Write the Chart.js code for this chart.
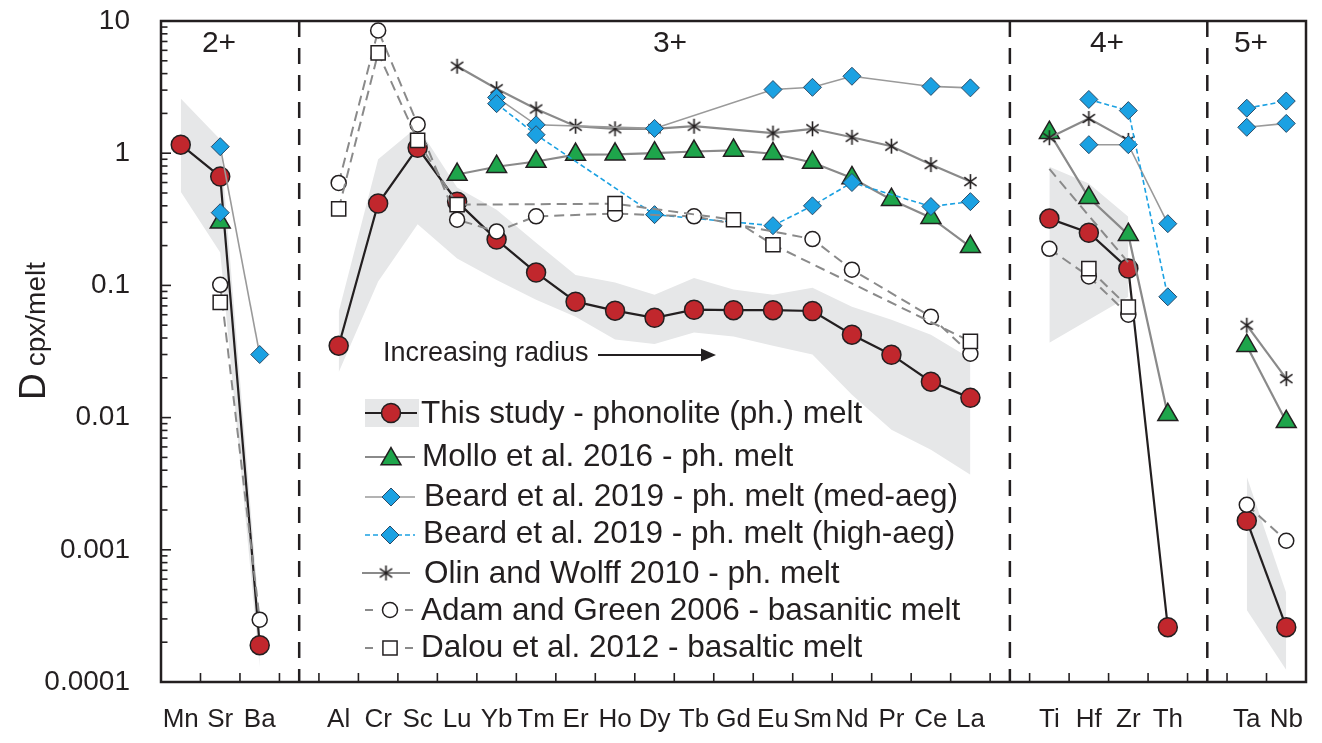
<!DOCTYPE html>
<html><head><meta charset="utf-8">
<script src="https://cdn.jsdelivr.net/npm/chart.js@4.4.1/dist/chart.umd.min.js"></script>
<style>html,body{margin:0;padding:0;background:#fff;}#wrap{position:relative;width:1322px;height:743px;}</style>
</head><body><div id="wrap"><canvas id="c" width="1322" height="743"></canvas></div>
<script>
const categories = ['Mn','Sr','Ba','','Al','Cr','Sc','Lu','Yb','Tm','Er','Ho','Dy','Tb','Gd','Eu','Sm','Nd','Pr','Ce','La','','Ti','Hf','Zr','Th','','Ta','Nb'];
const groupLabels = ['2+','3+','4+','5+'];
const yTickValues = [0.0001,0.001,0.01,0.1,1,10];
const yTickLabels = ['0.0001','0.001','0.01','0.1','1','10'];
const _ = null;
//                 Mn    Sr     Ba       gap Al     Cr     Sc    Lu    Yb     Tm     Er      Ho      Dy      Tb      Gd      Eu      Sm     Nd      Pr      Ce      La      gap Ti    Hf    Zr     Th       gap Ta       Nb
const thisStudy = [1.16, 0.665, 0.00019, _, 0.035, 0.416, 1.10, 0.43, 0.222, 0.125, 0.0753, 0.0644, 0.0569, 0.0655, 0.0650, 0.0650, 0.064, 0.0424, 0.0299, 0.0187, 0.0141, _, 0.32, 0.25, 0.134, 0.00026, _, 0.00166, 0.00026];
const mollo2016 = [_, 0.30, _, _, _, _, _, 0.69, 0.79, 0.865, 0.976, 0.98, 1.0, 1.03, 1.05, 0.99, 0.85, 0.65, 0.445, 0.325, 0.196, _, 1.43, 0.46, 0.242, 0.0105, _, 0.035, 0.0093];
const beardMedAeg = [_, 1.12, 0.030, _, _, _, _, _, 2.64, 1.64, _, _, 1.54, _, _, 3.03, 3.15, 3.82, _, 3.2, 3.12, _, _, 1.16, 1.16, 0.293, _, 1.57, 1.68];
const beardHighAeg = [_, 0.355, _, _, _, _, _, _, 2.37, 1.38, _, _, 0.343, _, _, 0.283, 0.40, 0.60, _, 0.395, 0.43, _, _, 2.55, 2.1, 0.082, _, 2.19, 2.48];
const olinWolff2010 = [_, _, _, _, _, _, _, 4.55, 3.07, 2.16, 1.6, 1.53, 1.53, 1.6, _, 1.42, 1.53, 1.32, 1.13, 0.82, 0.61, _, 1.31, 1.83, 1.25, _, _, 0.05, 0.0197];
const adamGreen2006 = [_, 0.101, 0.000296, _, 0.596, 8.47, 1.65, 0.314, 0.256, 0.333, _, 0.349, _, 0.333, _, _, 0.224, 0.1315, _, 0.058, 0.0304, _, 0.189, 0.117, 0.06, _, _, 0.00219, 0.00117];
const dalou2012 = [_, 0.0744, _, _, 0.379, 5.74, 1.25, 0.408, _, _, _, 0.415, _, _, 0.314, 0.203, _, _, _, _, 0.0377, _, _, 0.134, 0.0686, _, _, _, _];
const dashedTiZr = [_, _, _, _, _, _, _, _, _, _, _, _, _, _, _, _, _, _, _, _, _, _, 0.76, _, 0.149, _, _, _, _];
const bandUpper = [2.59, 1.27, 0.0003, _, 0.063, 0.9, 1.59, 0.55, 0.374, 0.21, 0.12, 0.105, 0.085, 0.114, 0.093, 0.085, 0.096, 0.069, 0.055, 0.0424, 0.028, _, 0.79, 0.59, 0.331, _, _, 0.00357, 0.000472];
const bandLower = [0.51, 0.177, 0.00013, _, 0.022, 0.107, 0.29, 0.16, 0.11, 0.078, 0.058, 0.039, 0.036, 0.044, 0.041, 0.035, 0.030, 0.0149, 0.0081, 0.0057, 0.0037, _, 0.0368, 0.055, 0.082, _, _, 0.000351, 0.000123];
const legendLabels = ['This study - phonolite (ph.) melt','Mollo et al. 2016 - ph. melt','Beard et al. 2019 - ph. melt (med-aeg)','Beard et al. 2019 - ph. melt (high-aeg)','Olin and Wolff 2010 - ph. melt','Adam and Green 2006 - basanitic melt','Dalou et al. 2012 - basaltic melt'];

const FONT = "'Liberation Sans', Arial, sans-serif";
const TXT = '#231f20';
const RED = '#c1272d', GREEN = '#1ea54b', BLUE = '#1ba1e2', BLUEB = '#2a4a66', GRAY = '#8a8a8a', BAND = '#e6e7e8';
const gapIdx = categories.map((c,i)=>c===''?i:-1).filter(i=>i>=0);
const groupId = []; { let g = 0; categories.forEach(c => { if (c === '') { groupId.push(-1); g++; } else groupId.push(g); }); }

function makeAsterisk(){
  const c = document.createElement('canvas'); c.width = c.height = 17;
  const g = c.getContext('2d'); g.strokeStyle = TXT; g.lineWidth = 1.6; g.beginPath();
  const cx = 8.5, r = 7.5;
  for (const a of [90, 35, 145]) { const t = a*Math.PI/180;
    g.moveTo(cx - r*Math.cos(t), cx - r*Math.sin(t)); g.lineTo(cx + r*Math.cos(t), cx + r*Math.sin(t)); }
  g.stroke(); return c;
}
const asterisk = makeAsterisk();

// one line dataset per valence group so lines never cross the separators
function series(label, data, o){
  return groupLabels.map((gl, g) => Object.assign({
    label: label + ' ' + gl,
    data: data.map((v, i) => groupId[i] === g ? v : null),
    spanGaps: true, fill: false, clip: false
  }, o));
}

const datasets = [
  ...series('Dalou et al. 2012', dalou2012, {borderColor:GRAY, borderWidth:2, borderDash:[10,6], pointStyle:'rect', pointRadius:10, pointBackgroundColor:'#fff', pointBorderColor:TXT, pointBorderWidth:1.5}),
  ...series('Adam and Green 2006', adamGreen2006, {borderColor:GRAY, borderWidth:2, borderDash:[10,6], pointStyle:'circle', pointRadius:7.5, pointBackgroundColor:'#fff', pointBorderColor:TXT, pointBorderWidth:1.5}),
  ...series('dashed Ti-Zr', dashedTiZr, {borderColor:GRAY, borderWidth:2, borderDash:[10,6], pointRadius:0}),
  ...series('Beard high-aeg', beardHighAeg, {borderColor:BLUE, borderWidth:1.6, borderDash:[5,3], pointStyle:'rectRot', pointRadius:9, pointBackgroundColor:BLUE, pointBorderColor:BLUEB, pointBorderWidth:1}),
  ...series('Beard med-aeg', beardMedAeg, {borderColor:'#9a9a9a', borderWidth:1.6, pointStyle:'rectRot', pointRadius:9, pointBackgroundColor:BLUE, pointBorderColor:BLUEB, pointBorderWidth:1}),
  ...series('Olin and Wolff 2010', olinWolff2010, {borderColor:GRAY, borderWidth:2.2, pointStyle:asterisk, pointRadius:8}),
  ...series('Mollo et al. 2016', mollo2016, {borderColor:GRAY, borderWidth:2.2, pointStyle:'triangle', pointRadius:11.5, pointBackgroundColor:GREEN, pointBorderColor:TXT, pointBorderWidth:1.5}),
  ...series('This study', thisStudy, {borderColor:TXT, borderWidth:2.2, pointStyle:'circle', pointRadius:9.5, pointBackgroundColor:RED, pointBorderColor:TXT, pointBorderWidth:1.5}),
  {label:'band lower', data:bandLower, borderWidth:0, borderColor:'rgba(0,0,0,0)', pointRadius:0, spanGaps:false, fill:false},
  {label:'band upper', data:bandUpper, borderWidth:0, borderColor:'rgba(0,0,0,0)', pointRadius:0, spanGaps:false, fill:'-1', backgroundColor:BAND},
];

const deco = {
  id:'deco',
  beforeDatasetsDraw(chart){
    const {ctx, chartArea:a, scales:{x}} = chart;
    ctx.save();
    ctx.strokeStyle = TXT; ctx.lineWidth = 2.5; ctx.setLineDash([16,11]);
    for (const g of gapIdx){ const px = x.getPixelForValue(g);
      ctx.beginPath(); ctx.moveTo(px, a.top); ctx.lineTo(px, a.bottom); ctx.stroke(); }
    ctx.setLineDash([]);
    ctx.restore();
  },
  afterDraw(chart){
    const {ctx, chartArea:a, scales:{x, y}} = chart;
    ctx.save();
    ctx.strokeStyle = TXT; ctx.lineWidth = 2.5;
    ctx.strokeRect(a.left, a.top, a.right - a.left, a.bottom - a.top);
    ctx.lineWidth = 1.6;
    for (let e = -4; e <= 1; e++){
      for (let k = 1; k <= 9; k++){
        const v = k*Math.pow(10, e); if (v > 10.0001) break;
        const py = y.getPixelForValue(v);
        ctx.beginPath(); ctx.moveTo(a.left, py); ctx.lineTo(a.left + (k===1?10:6.5), py); ctx.stroke();
      }
    }
    for (let i = 1; i < categories.length; i++){
      const px = (x.getPixelForValue(i-1) + x.getPixelForValue(i))/2;
      ctx.beginPath(); ctx.moveTo(px, a.bottom); ctx.lineTo(px, a.bottom - 9); ctx.stroke();
    }
    ctx.fillStyle = TXT; ctx.font = `30px ${FONT}`; ctx.textAlign = 'center'; ctx.textBaseline = 'middle';
    const gx = [219, 670, 1107, 1251];
    groupLabels.forEach((t,i)=>ctx.fillText(t, gx[i], 44));
    ctx.save(); ctx.translate(45, 400); ctx.rotate(-Math.PI/2);
    ctx.textAlign = 'left'; ctx.textBaseline = 'alphabetic';
    ctx.font = `37px ${FONT}`; ctx.fillText('D', 0, 0);
    const dw = ctx.measureText('D').width;
    ctx.font = `28px ${FONT}`; ctx.fillText('cpx/melt', dw + 7, 0);
    ctx.restore();
    ctx.font = `27px ${FONT}`; ctx.textAlign = 'left'; ctx.textBaseline = 'alphabetic';
    ctx.fillText('Increasing radius', 383, 361);
    ctx.lineWidth = 2; ctx.beginPath(); ctx.moveTo(598, 355); ctx.lineTo(704, 355); ctx.stroke();
    ctx.beginPath(); ctx.moveTo(716, 355); ctx.lineTo(701, 348.5); ctx.lineTo(701, 361.5); ctx.closePath(); ctx.fill();
    const rows = [
      {tx:421, tb:423},{tx:422, tb:466},{tx:424, tb:506},{tx:423, tb:543},
      {tx:424, tb:583},{tx:421, tb:620},{tx:421, tb:657}];
    const H = Chart.helpers;
    ctx.fillStyle = BAND; ctx.fillRect(365, 399, 54, 28);
    ctx.strokeStyle = TXT; ctx.lineWidth = 2.2; ctx.beginPath(); ctx.moveTo(365, 413); ctx.lineTo(417, 413); ctx.stroke();
    ctx.fillStyle = RED; ctx.lineWidth = 1.5; H.drawPoint(ctx, {pointStyle:'circle', radius:9.5, borderWidth:1.5}, 391, 413);
    ctx.strokeStyle = GRAY; ctx.lineWidth = 2.2; ctx.beginPath(); ctx.moveTo(365, 457); ctx.lineTo(415, 457); ctx.stroke();
    ctx.fillStyle = GREEN; ctx.strokeStyle = TXT; ctx.lineWidth = 1.5; H.drawPoint(ctx, {pointStyle:'triangle', radius:11.5, borderWidth:1.5}, 391, 459);
    ctx.strokeStyle = '#9a9a9a'; ctx.lineWidth = 1.6; ctx.beginPath(); ctx.moveTo(365, 497); ctx.lineTo(415, 497); ctx.stroke();
    ctx.fillStyle = BLUE; ctx.strokeStyle = BLUEB; ctx.lineWidth = 1; H.drawPoint(ctx, {pointStyle:'rectRot', radius:9, borderWidth:1}, 391, 497);
    ctx.strokeStyle = BLUE; ctx.lineWidth = 1.6; ctx.setLineDash([5,3]); ctx.beginPath(); ctx.moveTo(365, 535); ctx.lineTo(415, 535); ctx.stroke(); ctx.setLineDash([]);
    ctx.fillStyle = BLUE; ctx.strokeStyle = BLUEB; ctx.lineWidth = 1; H.drawPoint(ctx, {pointStyle:'rectRot', radius:9, borderWidth:1}, 390, 535);
    ctx.strokeStyle = GRAY; ctx.lineWidth = 2.2; ctx.beginPath(); ctx.moveTo(362, 573); ctx.lineTo(410, 573); ctx.stroke();
    ctx.drawImage(asterisk, 386 - 8.5, 573 - 8.5);
    ctx.strokeStyle = GRAY; ctx.lineWidth = 2.2;
    for (const yy of [610, 648]){ ctx.beginPath(); ctx.moveTo(365, yy); ctx.lineTo(373, yy); ctx.moveTo(405, yy); ctx.lineTo(413, yy); ctx.stroke(); }
    ctx.fillStyle = '#fff'; ctx.strokeStyle = TXT; ctx.lineWidth = 1.5;
    H.drawPoint(ctx, {pointStyle:'circle', radius:7.5, borderWidth:1.5}, 390, 610);
    H.drawPoint(ctx, {pointStyle:'rect', radius:10, borderWidth:1.5}, 390, 648);
    ctx.fillStyle = TXT; ctx.font = `31.5px ${FONT}`; ctx.textAlign = 'left'; ctx.textBaseline = 'alphabetic';
    legendLabels.forEach((t,i)=>ctx.fillText(t, rows[i].tx, rows[i].tb));
    ctx.restore();
  }
};

new Chart(document.getElementById('c'), {
  type:'line',
  data:{labels:categories, datasets},
  options:{
    responsive:false, animation:false, devicePixelRatio:1,
    layout:{padding:{left:0, right:16, top:21, bottom:0}},
    plugins:{legend:{display:false}, tooltip:{enabled:false}},
    elements:{line:{tension:0}},
    scales:{
      x:{type:'category', offset:true, grid:{display:false, drawTicks:false}, border:{display:false},
         ticks:{font:{family:FONT, size:26}, color:TXT, padding:22, maxRotation:0, autoSkip:false},
         afterFit: s => { s.height = 61; s.paddingLeft = 0; s.paddingRight = 0; }},
      y:{type:'logarithmic', min:0.0001, max:10, grid:{display:false, drawTicks:false}, border:{display:false},
         afterBuildTicks: s => { s.ticks = yTickValues.map(v=>({value:v})); },
         ticks:{callback:(v,i)=>yTickLabels[i], font:{family:FONT, size:28}, color:TXT, padding:31},
         afterFit: s => { s.width = 161; s.paddingTop = 0; s.paddingBottom = 0; }}
    }
  },
  plugins:[deco]
});
</script></body></html>
